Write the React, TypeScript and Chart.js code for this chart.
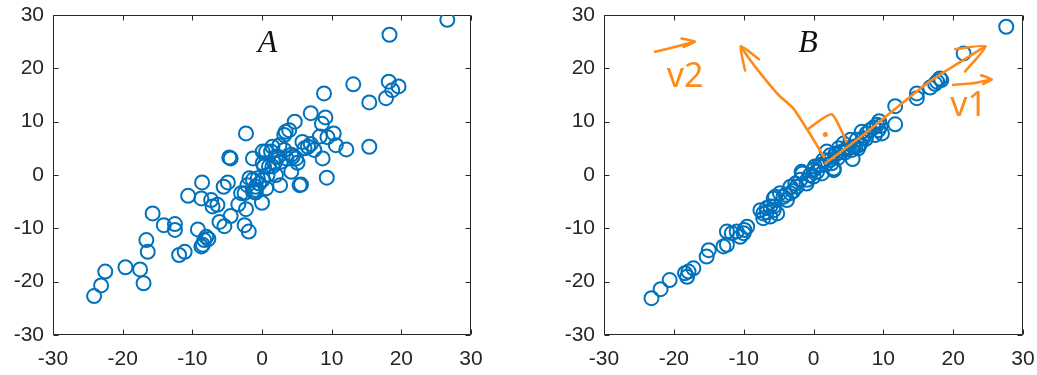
import React, { useEffect, useRef } from "react";
import { Chart, registerables } from "chart.js";

Chart.register(...registerables);

// ---------- data ----------
const AXIS_MIN = -30;
const AXIS_MAX = 30;
const AXIS_TICKS = [-30, -20, -10, 0, 10, 20, 30];

// Panel A: raw data
const xA = [
  26.6, 18.3, 13.1, 8.9, 18.2, 19.6, 18.7, 17.8, 15.4, 7.0,
  4.7, 9.1, 8.6, -2.3, 3.4, 3.2, 3.9, 10.3, 8.3, 9.4,
  10.6, 12.1, 15.4, 5.8, 6.6, 7.5, 6.1, 8.7, 9.3, 5.6,
  5.4, 4.2, 5.1, 4.9, 4.4, 3.2, 2.5, 1.5, 0.6, 0.1,
  1.3, 2.0, 2.7, 0.1, 0.3, 1.5, 2.0, -1.3, -4.5, -4.7,
  2.6, 0.6, 0.1, -0.6, -0.9, -1.3, -2.1, -3.0, -3.4, -2.3,
  0.0, -0.9, -4.9, -5.5, -8.6, -8.7, -10.6, -7.3, -6.4, -7.1,
  -4.5, -6.1, -5.4, -2.5, -1.9, -9.2, -8.0, -8.3, -8.5, -8.7,
  -15.7, -14.1, -12.5, -12.5, -11.9, -11.1, -16.6, -16.4, -19.6, -17.5,
  -17.0, -22.5, -23.1, -24.1, -1.3, -0.4, 0.8, -1.8, 1.0, 1.8,
  2.3, 3.5, 4.2, -2.5, -0.9, 7.0, -7.7,
];
const yA = [
  29.1, 26.3, 17.0, 15.3, 17.5, 16.6, 15.9, 14.4, 13.6, 11.6,
  10.0, 10.8, 9.6, 7.8, 8.1, 7.5, 8.4, 7.8, 7.2, 7.1,
  5.6, 4.8, 5.3, 6.2, 5.3, 4.7, 5.0, 3.1, -0.5, -1.8,
  -1.9, 0.6, 2.3, 3.1, 3.4, 4.7, 5.6, 5.3, 4.4, 4.4,
  4.4, 3.4, 2.5, 2.2, 1.6, 1.6, 0.0, 3.1, 3.1, 3.3,
  -1.9, -2.5, -0.9, -0.6, -2.2, -3.1, -1.9, -3.4, -5.5, -6.4,
  -5.2, -3.3, -1.4, -2.2, -1.4, -4.4, -3.9, -4.7, -5.6, -5.9,
  -7.7, -8.8, -9.6, -9.4, -10.6, -10.2, -11.6, -12.2, -13.1, -13.4,
  -7.2, -9.4, -9.2, -10.3, -15.0, -14.4, -12.2, -14.4, -17.3, -17.7,
  -20.3, -18.1, -20.7, -22.7, -0.9, -1.6, 0.0, -0.6, 1.6, 2.2,
  3.4, 3.1, 3.8, -3.4, -2.8, 5.8, -12.0,
];

// Panel B: data concentrated along the principal direction
const xB = [
  27.6, 21.5, 18.1, 18.3, 17.7, 17.4, 16.7, 14.8, 14.8, 11.7,
  11.7, 9.4, 9.6, 9.1, 8.6, 9.3, 8.1, 9.8, 8.8, 7.6,
  6.9, 7.1, 6.2, 6.5, 6.7, 6.0, 5.7, 5.3, 5.5, 6.4,
  4.8, 4.1, 5.6, 4.3, 3.6, 3.3, 3.1, 2.4, 2.4, 1.9,
  1.4, 2.6, 2.9, 2.9, 1.7, 1.0, 0.7, 0.2, 0.5, 1.2,
  0.0, -0.5, -1.6, -1.9, -0.9, -2.6, -3.3, -2.4, -4.0, -4.8,
  -5.5, -3.3, -3.8, -4.3, -5.7, -5.7, -5.2, -7.6, -7.2, -6.7,
  -6.2, -5.7, -6.2, -7.2, -6.7, -9.5, -10.0, -10.5, -11.0, -12.4,
  -11.7, -9.9, -12.9, -12.4, -15.0, -15.3, -17.2, -17.9, -18.4, -18.1,
  -20.6, -21.9, -23.2, -1.0, 0.0, -2.9, 3.5, 4.5, 7.5, -1.7,
];
const yB = [
  27.8, 22.8, 18.1, 17.8, 17.5, 17.1, 16.4, 15.3, 14.4, 12.9,
  9.5, 10.1, 9.2, 9.4, 8.9, 8.4, 8.4, 7.8, 7.5, 7.8,
  8.1, 6.9, 6.6, 5.6, 5.9, 5.3, 5.3, 6.6, 4.7, 5.0,
  5.0, 4.4, 3.0, 5.9, 5.0, 4.1, 3.8, 3.7, 2.8, 4.4,
  2.8, 2.2, 1.2, 0.9, 1.9, 1.9, 1.7, 1.6, 0.6, 0.3,
  1.0, 0.0, 0.3, -0.9, -0.9, -1.6, -2.2, -2.2, -3.7, -3.4,
  -4.1, -3.4, -4.7, -4.1, -4.4, -5.9, -7.2, -6.6, -7.2, -6.2,
  -5.9, -6.6, -7.8, -8.1, -7.0, -9.7, -10.9, -11.6, -10.6, -10.6,
  -10.9, -10.3, -13.4, -13.1, -14.1, -15.3, -17.5, -18.1, -18.4, -19.1,
  -19.7, -21.4, -23.1, -1.6, -0.3, -3.0, 3.2, 4.2, 6.8, 0.6,
];

// Hand-drawn annotation strokes on panel B (data coordinates)
const v1Shaft = [[1.7, 2.2], [7.2, 7.6], [11.9, 12.6], [16.7, 17.6], [24.6, 24.1]];
const v1Head = [[20.3, 23.6], [24.6, 24.1], [21.7, 19.4]];
const v2Shaft = [[1.5, 3.4], [-0.7, 8.1], [-2.9, 12.5], [-5.0, 15.0], [-7.2, 18.4], [-9.1, 21.6], [-10.4, 24.1]];
const v2Head = [[-9.8, 19.6], [-10.4, 24.1], [-7.8, 21.7]];
const rightAngle = [[-0.8, 8.6], [2.6, 11.4], [4.7, 6.3]];
const rightAngleDot = [[1.7, 7.6]];
const v2LabelArrow = [[-22.7, 23.1], [-19.6, 24.1], [-17.0, 25.0]];
const v2LabelHead = [[-18.9, 25.6], [-17.0, 25.0], [-18.6, 24.0]];
const v1LabelArrow = [[20.0, 16.9], [22.8, 17.2], [25.5, 17.9]];
const v1LabelHead = [[24.0, 18.7], [25.5, 17.9], [24.3, 17.1]];

const titleA = { text: "A", x: 0.8, y: 24.7 };
const titleB = { text: "B", x: -0.8, y: 24.7 };
const labelV2 = { text: "v2", x: -18.4, y: 18.4 };
const labelV1 = { text: "v1", x: 22.2, y: 12.8 };

// ---------- styles ----------
const BLUE = "#0072BD";
const ORANGE = "#FF8A1C";
const AXIS_COLOR = "#262626";
const TICK_FONT = { family: '"Liberation Sans", Arial, sans-serif', size: 21 };

function toPoints(xs: number[], ys: number[]) {
  return xs.map((x, i) => ({ x, y: ys[i] }));
}
function strokeDataset(pairs: number[][], width = 2.6) {
  return {
    type: "line" as const,
    data: pairs.map(([x, y]) => ({ x, y })),
    showLine: true,
    borderColor: ORANGE,
    backgroundColor: ORANGE,
    borderWidth: width,
    pointRadius: 0,
    tension: 0.2,
    borderCapStyle: "round" as const,
    borderJoinStyle: "round" as const,
    order: 0,
  };
}

const framePlugin = {
  id: "matlabFrame",
  beforeDatasetsDraw(chart: any) {
    const { ctx, chartArea: a, scales } = chart;
    const xs = scales.x;
    const ys = scales.y;
    const L = Math.round(a.left) + 0.5;
    const R = Math.round(a.right) - 0.5;
    const T = Math.round(a.top) + 0.5;
    const B = Math.round(a.bottom) - 0.5;
    ctx.save();
    ctx.strokeStyle = AXIS_COLOR;
    ctx.lineWidth = 1;
    ctx.beginPath();
    ctx.rect(L, T, R - L, B - T);
    const tl = 5;
    AXIS_TICKS.forEach((v) => {
      const px = Math.round(xs.getPixelForValue(v)) + 0.5;
      ctx.moveTo(px, B);
      ctx.lineTo(px, B - tl);
      ctx.moveTo(px, T);
      ctx.lineTo(px, T + tl);
      const py = Math.round(ys.getPixelForValue(v)) + 0.5;
      ctx.moveTo(L, py);
      ctx.lineTo(L + tl, py);
      ctx.moveTo(R, py);
      ctx.lineTo(R - tl, py);
    });
    ctx.stroke();
    ctx.restore();
  },
};

function makeTextPlugin(
  title: { text: string; x: number; y: number },
  handLabels: { text: string; x: number; y: number }[]
) {
  return {
    id: "textMarks",
    afterDatasetsDraw(chart: any) {
      const { ctx, scales } = chart;
      ctx.save();
      ctx.textAlign = "center";
      ctx.textBaseline = "middle";
      ctx.fillStyle = "#111111";
      ctx.font = 'italic 32px "Liberation Serif", "Times New Roman", serif';
      ctx.fillText(title.text, scales.x.getPixelForValue(title.x), scales.y.getPixelForValue(title.y));
      ctx.fillStyle = ORANGE;
      ctx.font = '34px "Noto Sans", "DejaVu Sans", sans-serif';
      handLabels.forEach((l) => {
        ctx.fillText(l.text, scales.x.getPixelForValue(l.x), scales.y.getPixelForValue(l.y));
      });
      ctx.restore();
    },
  };
}

function zeroPadding(s: any) {
  s.paddingTop = 0;
  s.paddingBottom = 0;
  s.paddingLeft = 0;
  s.paddingRight = 0;
}

function makeOptions(yAxisWidth: number, padRight: number) {
  const common = {
    type: "linear" as const,
    min: AXIS_MIN,
    max: AXIS_MAX,
    grid: { display: false, drawTicks: false },
    border: { display: false },
  };
  return {
    responsive: false,
    animation: false as const,
    layout: { padding: { left: 0, right: padRight, top: 15, bottom: 0 } },
    plugins: { legend: { display: false }, tooltip: { enabled: false } },
    scales: {
      x: {
        ...common,
        position: "bottom" as const,
        ticks: { stepSize: 10, color: AXIS_COLOR, font: TICK_FONT, padding: 12, maxRotation: 0 },
        afterFit: (s: any) => {
          s.height = 40;
          zeroPadding(s);
        },
      },
      y: {
        ...common,
        position: "left" as const,
        ticks: { stepSize: 10, color: AXIS_COLOR, font: TICK_FONT, padding: 9 },
        afterFit: (s: any) => {
          s.width = yAxisWidth;
          zeroPadding(s);
        },
      },
    },
  };
}

function scatterDataset(xs: number[], ys: number[]) {
  return {
    type: "scatter" as const,
    data: toPoints(xs, ys),
    pointStyle: "circle",
    pointRadius: 7,
    pointBorderWidth: 2,
    borderColor: BLUE,
    backgroundColor: "rgba(0,0,0,0)",
    pointBackgroundColor: "rgba(0,0,0,0)",
    pointBorderColor: BLUE,
    order: 1,
  };
}

function PanelA() {
  const ref = useRef<HTMLCanvasElement>(null);
  useEffect(() => {
    if (!ref.current) return;
    const chart = new Chart(ref.current, {
      type: "scatter",
      data: { datasets: [scatterDataset(xA, yA)] as any },
      options: makeOptions(53, 500 - 471) as any,
      plugins: [framePlugin, makeTextPlugin(titleA, [])],
    });
    return () => chart.destroy();
  }, []);
  return (
    <canvas
      ref={ref}
      width={500}
      height={375}
      style={{ position: "absolute", left: 0, top: 0, width: 500, height: 375 }}
    />
  );
}

function PanelB() {
  const ref = useRef<HTMLCanvasElement>(null);
  useEffect(() => {
    if (!ref.current) return;
    const strokes = [
      strokeDataset(v1Shaft),
      strokeDataset(v1Head),
      strokeDataset(v2Shaft),
      strokeDataset(v2Head),
      strokeDataset(rightAngle),
      strokeDataset(v2LabelArrow),
      strokeDataset(v2LabelHead),
      strokeDataset(v1LabelArrow),
      strokeDataset(v1LabelHead),
      {
        type: "scatter" as const,
        data: rightAngleDot.map(([x, y]) => ({ x, y })),
        pointRadius: 2.5,
        pointBorderWidth: 0,
        pointBackgroundColor: ORANGE,
        backgroundColor: ORANGE,
        borderColor: ORANGE,
        order: 0,
      },
    ];
    const chart = new Chart(ref.current, {
      type: "scatter",
      data: { datasets: [...strokes, scatterDataset(xB, yB)] as any },
      options: makeOptions(54, 1037 - 1023) as any,
      plugins: [framePlugin, makeTextPlugin(titleB, [labelV2, labelV1])],
    });
    return () => chart.destroy();
  }, []);
  return (
    <canvas
      ref={ref}
      width={487}
      height={375}
      style={{ position: "absolute", left: 550, top: 0, width: 487, height: 375 }}
    />
  );
}

export default function App() {
  return (
    <div
      style={{
        position: "absolute",
        left: 0,
        top: 0,
        width: 1037,
        height: 375,
        background: "#ffffff",
        overflow: "hidden",
      }}
    >
      <PanelA />
      <PanelB />
    </div>
  );
}
